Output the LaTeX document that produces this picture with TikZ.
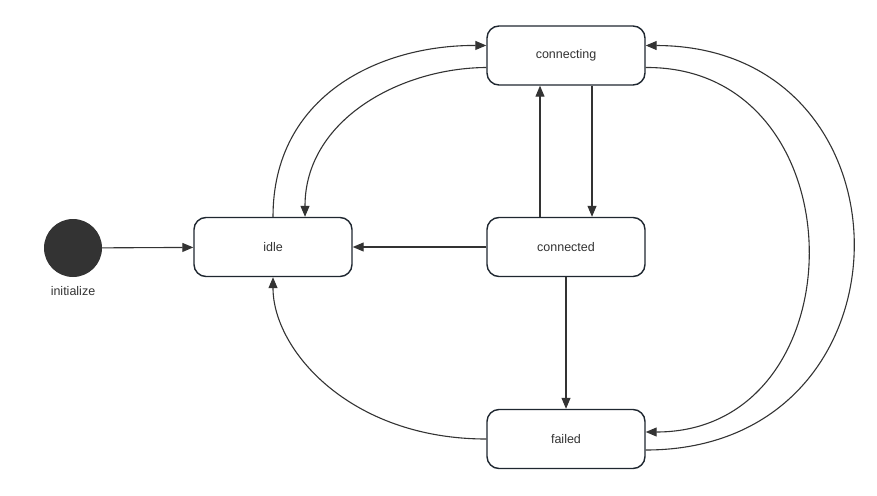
\documentclass[tikz,border=0pt]{standalone}
\usepackage{fontspec}
\setmainfont{Liberation Sans}
\usepackage{xcolor}
\usepackage{tikz}
\usetikzlibrary{positioning,arrows.meta}

\definecolor{boxline}{HTML}{1F2730}
\definecolor{ink}{HTML}{333333}

\begin{document}
\begin{tikzpicture}[x=1pt,y=-1pt,
    every node/.style={font=\fontsize{12.5}{15}\selectfont,text=ink},
    state/.style={draw=boxline,line width=1.4pt,rounded corners=12pt,
      minimum width=158pt,minimum height=59pt,fill=white},
    start/.style={circle,fill=ink,minimum size=58pt,inner sep=0pt},
    trans/.style={draw=ink,line width=1.1pt,-{Triangle[length=11pt,width=9pt]}}]
    \useasboundingbox (0,0) rectangle (877,495);
    \node[start] (init) at (73,248) {};
    \node[below=6pt of init] (initlbl) {initialize};
    \node[state] (idle) at (273,247) {idle};
    \node[state] (connecting) at (566,55.5) {connecting};
    \node[state] (connected) at (566,247) {connected};
    \node[state] (failed) at (566,439) {failed};
    \draw[trans] (init) -- (idle);
    \draw[trans] (idle.north) .. controls (273,95) and (380,45) .. ([yshift=10pt]connecting.west);
    \draw[trans] ([yshift=-12pt]connecting.west) .. controls (400,68) and (305,120) .. ([xshift=32pt]idle.north);
    \draw[trans] ([xshift=26pt]connecting.south) -- ([xshift=26pt]connected.north);
    \draw[trans] ([xshift=-26pt]connected.north) -- ([xshift=-26pt]connecting.south);
    \draw[trans] (connected) -- (idle);
    \draw[trans] (connected) -- (failed);
    \draw[trans] (failed.west) .. controls (350,439) and (273,350) .. (idle.south);
    \draw[trans] ([yshift=-12pt]connecting.east) .. controls (862,66) and (862,432) .. ([yshift=7pt]failed.east);
    \draw[trans] ([yshift=-11pt]failed.east) .. controls (922,450) and (922,46) .. ([yshift=10pt]connecting.east);
  \end{tikzpicture}
\end{document}
